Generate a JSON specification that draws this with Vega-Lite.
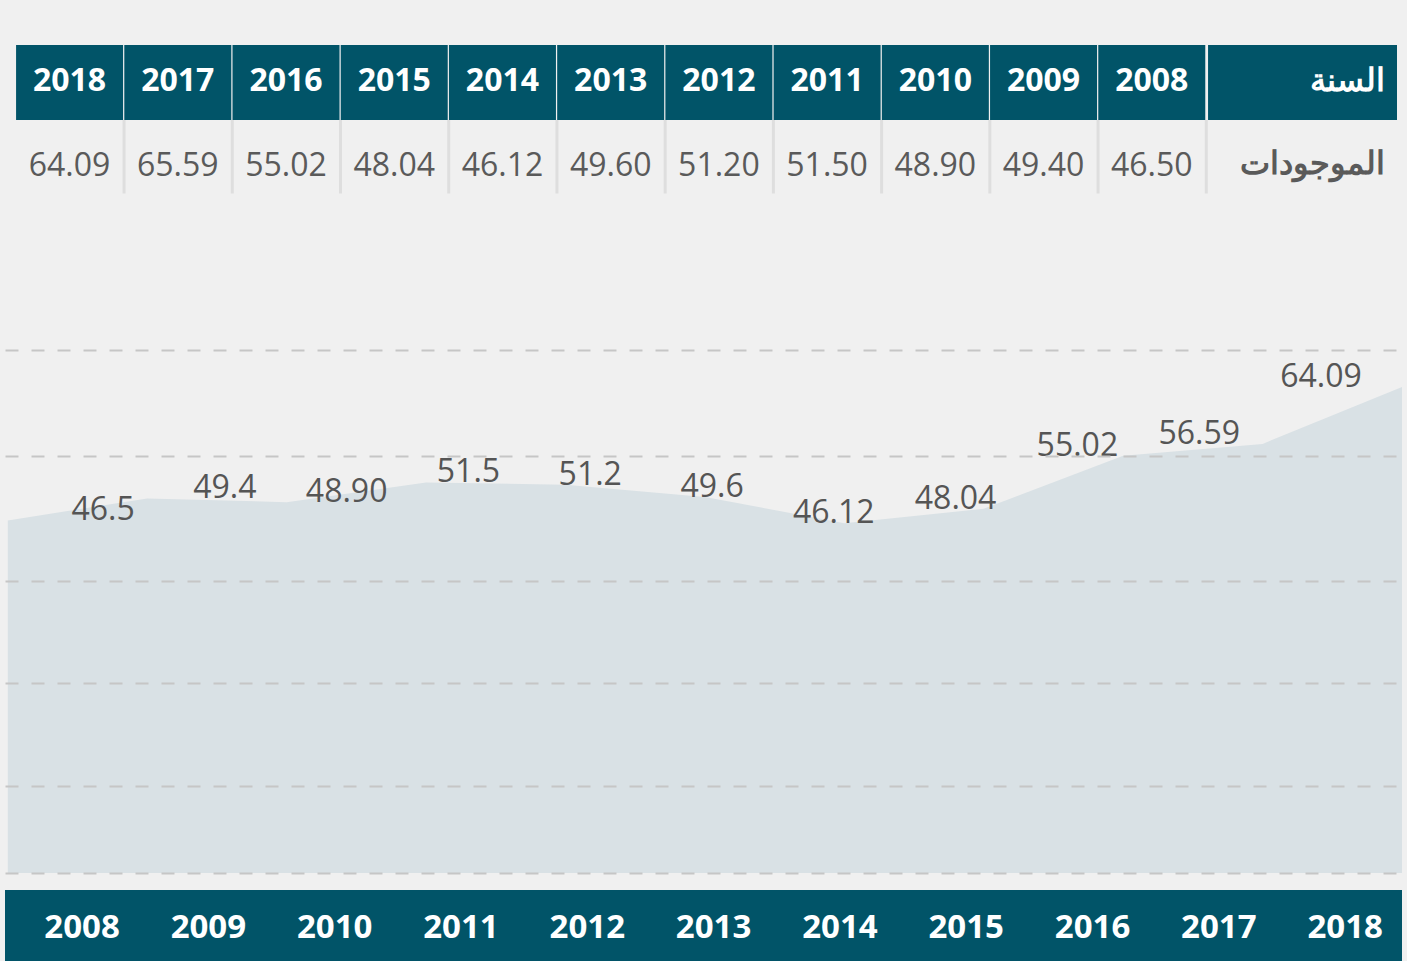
{
  "$schema": "https://vega.github.io/schema/vega-lite/v6.json",
  "background": "#f0f0f0",
  "padding": {"left": 5, "right": 5, "top": 0, "bottom": 0},
  "spacing": 0,
  "config": {"view": {"stroke": null}, "font": "Open Sans", "text": {"font": "Open Sans"}},
  "datasets": {
    "years": [
      {"year": 2008, "table": "46.50", "value": 46.5, "label": "46.5"},
      {"year": 2009, "table": "49.40", "value": 49.4, "label": "49.4"},
      {"year": 2010, "table": "48.90", "value": 48.9, "label": "48.90"},
      {"year": 2011, "table": "51.50", "value": 51.5, "label": "51.5"},
      {"year": 2012, "table": "51.20", "value": 51.2, "label": "51.2"},
      {"year": 2013, "table": "49.60", "value": 49.6, "label": "49.6"},
      {"year": 2014, "table": "46.12", "value": 46.12, "label": "46.12"},
      {"year": 2015, "table": "48.04", "value": 48.04, "label": "48.04"},
      {"year": 2016, "table": "55.02", "value": 55.02, "label": "55.02"},
      {"year": 2017, "table": "65.59", "value": 56.59, "label": "56.59"},
      {"year": 2018, "table": "64.09", "value": 64.09, "label": "64.09"}
    ],
    "rowTitles": [{"header": "السنة", "row": "الموجودات"}]
  },
  "vconcat": [
    {
      "width": 1397,
      "height": 195,
      "layer": [
        {
          "data": {"name": "years"},
          "mark": {"type": "bar", "orient": "vertical", "size": 107, "color": "#015468"},
          "encoding": {
            "x": {"field": "year", "type": "quantitative", "scale": {"domain": [2018.5505, 2005.734], "nice": false, "zero": false}, "axis": null},
            "y": {"datum": 0, "type": "quantitative", "scale": {"domain": [0, 2], "range": [45, 195], "nice": false}, "axis": null},
            "y2": {"datum": 1}
          }
        },
        {
          "data": {"name": "years"},
          "mark": {"type": "bar", "orient": "vertical", "size": 3, "color": "#dedede", "xOffset": 54.5},
          "encoding": {
            "x": {"field": "year", "type": "quantitative"},
            "y": {"datum": 1, "type": "quantitative"},
            "y2": {"datum": 1.98}
          }
        },
        {
          "data": {"name": "rowTitles"},
          "mark": {"type": "rect", "color": "#015468"},
          "encoding": {
            "x": {"datum": 2007.48, "type": "quantitative"},
            "x2": {"datum": 2005.734},
            "y": {"datum": 0, "type": "quantitative"},
            "y2": {"datum": 1}
          }
        },
        {
          "data": {"name": "years"},
          "mark": {"type": "text", "fontSize": 32, "fontWeight": "bold", "color": "white", "dy": -2},
          "encoding": {
            "x": {"field": "year", "type": "quantitative"},
            "y": {"datum": 0.5, "type": "quantitative"},
            "text": {"field": "year", "type": "quantitative", "format": "d"}
          }
        },
        {
          "data": {"name": "years"},
          "mark": {"type": "text", "fontSize": 32, "color": "#5a5a5a", "dy": 8},
          "encoding": {
            "x": {"field": "year", "type": "quantitative"},
            "y": {"datum": 1.5, "type": "quantitative"},
            "text": {"field": "table", "type": "nominal"}
          }
        },
        {
          "data": {"name": "rowTitles"},
          "mark": {"type": "text", "fontSize": 32, "fontWeight": "bold", "color": "white", "align": "right", "dy": -2},
          "encoding": {
            "x": {"datum": 2005.845, "type": "quantitative"},
            "y": {"datum": 0.5, "type": "quantitative"},
            "text": {"field": "header", "type": "nominal"}
          }
        },
        {
          "data": {"name": "rowTitles"},
          "mark": {"type": "text", "fontSize": 32, "fontWeight": "bold", "color": "#5a5a5a", "align": "right", "dy": 6},
          "encoding": {
            "x": {"datum": 2005.845, "type": "quantitative"},
            "y": {"datum": 1.5, "type": "quantitative"},
            "text": {"field": "row", "type": "nominal"}
          }
        }
      ]
    },
    {
      "width": 1397,
      "height": 695,
      "data": {"name": "years"},
      "layer": [
        {
          "mark": {"type": "area", "color": "#d9e1e5", "opacity": 1},
          "encoding": {
            "x": {"field": "year", "type": "quantitative", "scale": {"domain": [2007.98, 2018], "nice": false, "zero": false}, "axis": null},
            "y": {
              "field": "value", "type": "quantitative",
              "scale": {"domain": [-2.24, 89.41], "nice": false, "zero": false},
              "axis": {"values": [0, 11.5, 25, 38.5, 55, 69], "labels": false, "ticks": false, "domain": false, "title": null, "grid": true, "gridColor": "#c6c6c6", "gridDash": [13, 13], "gridWidth": 2, "zindex": 1}
            },
            "y2": {"datum": 0}
          }
        },
        {
          "mark": {"type": "text", "fontSize": 32, "color": "#555555", "dy": -10},
          "encoding": {
            "x": {"field": "year", "type": "quantitative", "scale": {"domain": [2007.195, 2018.665], "nice": false, "zero": false}, "axis": null},
            "y": {"field": "value", "type": "quantitative"},
            "text": {"field": "label", "type": "nominal"}
          }
        }
      ],
      "resolve": {"scale": {"x": "independent"}}
    },
    {
      "width": 1397,
      "height": 71,
      "view": {"fill": "#015468", "stroke": null},
      "data": {"name": "years"},
      "mark": {"type": "text", "fontSize": 33, "fontWeight": "bold", "color": "white", "dy": 2},
      "encoding": {
        "x": {"field": "year", "type": "quantitative", "scale": {"domain": [2007.39, 2018.45], "nice": false, "zero": false}, "axis": null},
        "text": {"field": "year", "type": "quantitative", "format": "d"}
      }
    }
  ]
}
